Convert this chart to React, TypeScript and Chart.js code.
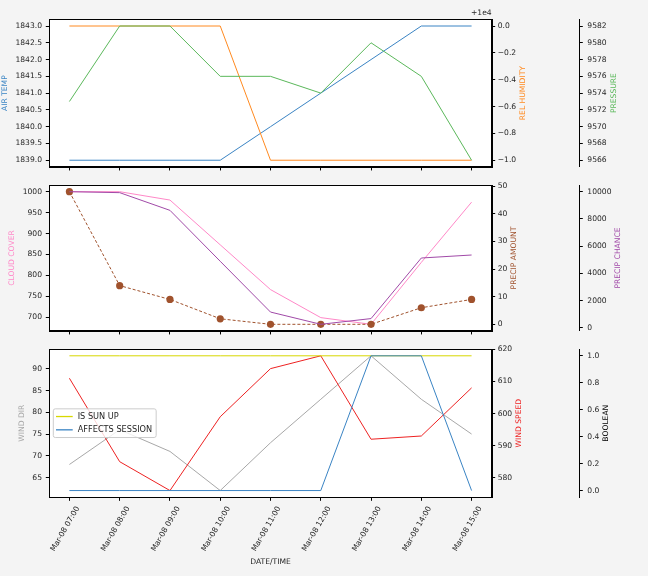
import React, { useEffect, useRef } from 'react';
import { Chart, registerables } from 'chart.js';

Chart.register(...registerables);

// ---------------- data ----------------
const timeLabels = [
  'Mar-08 07:00', 'Mar-08 08:00', 'Mar-08 09:00', 'Mar-08 10:00', 'Mar-08 11:00',
  'Mar-08 12:00', 'Mar-08 13:00', 'Mar-08 14:00', 'Mar-08 15:00',
];
const airTemp = [1839, 1839, 1839, 1839, 1840, 1841, 1842, 1843, 1843];
const relHumidity = [10000, 10000, 10000, 10000, 9999, 9999, 9999, 9999, 9999];
const pressure = [9573, 9582, 9582, 9576, 9576, 9574, 9580, 9576, 9566];
const cloudCover = [1000, 1000, 980, 873, 766, 699, 683, 831, 975];
const precipAmount = [48, 14, 9, 2, 0, 0, 0, 6, 9];
const precipChance = [10000, 9930, 8630, 4890, 1160, 260, 680, 5130, 5350];
const windDir = [68, 76, 71, 62, 73, 83, 93, 83, 75];
const windSpeed = [611, 585, 576, 599, 614, 618, 592, 593, 608];
const isSunUp = [1, 1, 1, 1, 1, 1, 1, 1, 1];
const affectsSession = [0, 0, 0, 0, 0, 0, 1, 1, 0];

const airTempTicks = [1839, 1839.5, 1840, 1840.5, 1841, 1841.5, 1842, 1842.5, 1843];
const relHumidityTicks = [9999, 9999.2, 9999.4, 9999.6, 9999.8, 10000];
const pressureTicks = [9566, 9568, 9570, 9572, 9574, 9576, 9578, 9580, 9582];
const cloudCoverTicks = [700, 750, 800, 850, 900, 950, 1000];
const precipAmountTicks = [0, 10, 20, 30, 40, 50];
const precipChanceTicks = [0, 2000, 4000, 6000, 8000, 10000];
const windDirTicks = [65, 70, 75, 80, 85, 90];
const windSpeedTicks = [580, 590, 600, 610, 620];
const booleanTicks = [0, 0.2, 0.4, 0.6, 0.8, 1.0];

// ---------------- style ----------------
const FONT_FAMILY = '"DejaVu Sans", Verdana, sans-serif';
const FS = 7.6;
const TEXT = '#262626';
const AXIS_WIDTHS = [49.3, 87.6, 68.7];
const AXIS_PADS = [3.8, 2.5, 4.5];

const fmt1 = (v: number) => v.toFixed(1);
const fmtInt = (v: number) => String(Math.round(v));
const fmtOffset = (v: number) => (v - 10000).toFixed(1).replace('-', '\u2212');

function padRange(values: number[]): [number, number] {
  const mn = Math.min(...values);
  const mx = Math.max(...values);
  const d = mx - mn || 1;
  return [mn - d * 0.05, mx + d * 0.05];
}

interface SeriesSpec {
  label: string;
  values: number[];
  color: string;
  axis: string;
  dashed?: boolean;
  markers?: boolean;
}
interface AxisSpec {
  id: string;
  side: 'left' | 'right';
  ticks: number[];
  fmt: (v: number) => string;
  title: string;
  color: string;
}
interface PanelSpec {
  top: number;
  height: number;
  padTop: number;
  xHeight: number;
  showX: boolean;
  axes: AxisSpec[];
  series: SeriesSpec[];
  offsetText?: string;
  legend?: string[];
}

const panels: PanelSpec[] = [
  {
    top: 0, height: 176, padTop: 19.3, xHeight: 8, showX: false,
    offsetText: '+1e4',
    axes: [
      { id: 'y', side: 'left', ticks: airTempTicks, fmt: fmt1, title: 'AIR TEMP', color: '#3a84c4' },
      { id: 'y1', side: 'right', ticks: relHumidityTicks, fmt: fmtOffset, title: 'REL HUMIDITY', color: '#ff8a20' },
      { id: 'y2', side: 'right', ticks: pressureTicks, fmt: fmtInt, title: 'PRESSURE', color: '#5bb85b' },
    ],
    series: [
      { label: 'AIR TEMP', values: airTemp, color: '#3a84c4', axis: 'y' },
      { label: 'REL HUMIDITY', values: relHumidity, color: '#ff8a20', axis: 'y1' },
      { label: 'PRESSURE', values: pressure, color: '#5bb85b', axis: 'y2' },
    ],
  },
  {
    top: 176, height: 164, padTop: 7.3, xHeight: 8.3, showX: false,
    axes: [
      { id: 'y', side: 'left', ticks: cloudCoverTicks, fmt: fmtInt, title: 'CLOUD COVER', color: '#ff88c8' },
      { id: 'y1', side: 'right', ticks: precipAmountTicks, fmt: fmtInt, title: 'PRECIP AMOUNT', color: '#a0522d' },
      { id: 'y2', side: 'right', ticks: precipChanceTicks, fmt: fmtInt, title: 'PRECIP CHANCE', color: '#a14aa8' },
    ],
    series: [
      { label: 'CLOUD COVER', values: cloudCover, color: '#ff88c8', axis: 'y' },
      { label: 'PRECIP AMOUNT', values: precipAmount, color: '#a0522d', axis: 'y1', dashed: true, markers: true },
      { label: 'PRECIP CHANCE', values: precipChance, color: '#a14aa8', axis: 'y2' },
    ],
  },
  {
    top: 340, height: 236, padTop: 8.3, xHeight: 78.7, showX: true,
    legend: ['IS SUN UP', 'AFFECTS SESSION'],
    axes: [
      { id: 'y', side: 'left', ticks: windDirTicks, fmt: fmtInt, title: 'WIND DIR', color: '#a8a8a8' },
      { id: 'y1', side: 'right', ticks: windSpeedTicks, fmt: fmtInt, title: 'WIND SPEED', color: '#ee2222' },
      { id: 'y2', side: 'right', ticks: booleanTicks, fmt: fmt1, title: 'BOOLEAN', color: '#000000' },
    ],
    series: [
      { label: 'WIND DIR', values: windDir, color: '#a8a8a8', axis: 'y' },
      { label: 'WIND SPEED', values: windSpeed, color: '#ee2222', axis: 'y1' },
      { label: 'IS SUN UP', values: isSunUp, color: '#d8d800', axis: 'y2' },
      { label: 'AFFECTS SESSION', values: affectsSession, color: '#3a84c4', axis: 'y2' },
    ],
  },
];

function buildConfig(spec: PanelSpec): any {
  const font = { family: FONT_FAMILY, size: FS };
  const xr = padRange(timeLabels.map((_, i) => i));
  const scales: any = {
    x: {
      type: 'linear',
      bounds: 'data',
      min: xr[0],
      max: xr[1],
      afterBuildTicks: (s: any) => { s.ticks = timeLabels.map((_, i) => ({ value: i })); },
      afterFit: (s: any) => { s.height = spec.xHeight; },
      grid: { display: true, drawOnChartArea: false, drawTicks: true, tickLength: 3.5, tickWidth: 1, tickColor: '#000' },
      border: { display: true, color: '#000', width: 1 },
      ticks: {
        display: spec.showX, autoSkip: false, minRotation: 60, maxRotation: 60,
        labelOffset: 8.5, padding: 4, color: TEXT, font,
        callback: (v: any) => timeLabels[Math.round(Number(v))] ?? '',
      },
      title: { display: spec.showX, text: 'DATE/TIME', color: TEXT, font, padding: { top: 0, bottom: 9.4 } },
    },
  };
  spec.axes.forEach((ax, k) => {
    const vals = spec.series.filter((s) => s.axis === ax.id).flatMap((s) => s.values);
    const [mn, mx] = padRange(vals);
    scales[ax.id] = {
      type: 'linear',
      position: ax.side,
      bounds: 'data',
      min: mn,
      max: mx,
      weight: k,
      afterBuildTicks: (s: any) => { s.ticks = ax.ticks.map((v) => ({ value: v })); },
      afterFit: (s: any) => { s.width = AXIS_WIDTHS[k]; },
      grid: { display: true, drawOnChartArea: false, drawTicks: true, tickLength: 3.5, tickWidth: 1, tickColor: '#000' },
      border: { display: true, color: '#000', width: 1 },
      ticks: { autoSkip: false, padding: AXIS_PADS[k], color: TEXT, font, callback: (v: any) => ax.fmt(Number(v)) },
    };
  });

  const n = spec.series.length;
  const datasets = spec.series.map((s, i) => ({
    label: s.label,
    data: s.values.map((v, j) => ({ x: j, y: v })),
    yAxisID: s.axis,
    xAxisID: 'x',
    borderColor: s.color,
    backgroundColor: s.color,
    borderWidth: 1,
    borderDash: s.dashed ? [3, 2] : [],
    pointRadius: s.markers ? 3.6 : 0,
    pointBackgroundColor: s.color,
    pointBorderColor: s.color,
    pointBorderWidth: 0,
    tension: 0,
    fill: false,
    order: n - i,
  }));

  const decor = {
    id: 'decor',
    beforeDraw(chart: any) {
      const { ctx, chartArea: a } = chart;
      ctx.save();
      ctx.fillStyle = '#ffffff';
      ctx.fillRect(a.left, a.top, a.right - a.left, a.bottom - a.top);
      ctx.restore();
    },
    afterDraw(chart: any) {
      const { ctx, chartArea: a } = chart;
      ctx.save();
      // legend
      if (spec.legend) {
        const items = spec.series.filter((s) => spec.legend!.includes(s.label));
        ctx.font = `${FS + 0.6}px ${FONT_FAMILY}`;
        const tw = Math.max(...items.map((s) => ctx.measureText(s.label).width));
        const rowH = 13.3;
        const bh = 28.7;
        const bw = 24.4 + tw + 4;
        const bx = a.left + 4;
        const by = (a.top + a.bottom) / 2 - bh / 2;
        ctx.beginPath();
        const r = 2;
        ctx.moveTo(bx + r, by);
        ctx.lineTo(bx + bw - r, by);
        ctx.quadraticCurveTo(bx + bw, by, bx + bw, by + r);
        ctx.lineTo(bx + bw, by + bh - r);
        ctx.quadraticCurveTo(bx + bw, by + bh, bx + bw - r, by + bh);
        ctx.lineTo(bx + r, by + bh);
        ctx.quadraticCurveTo(bx, by + bh, bx, by + bh - r);
        ctx.lineTo(bx, by + r);
        ctx.quadraticCurveTo(bx, by, bx + r, by);
        ctx.closePath();
        ctx.fillStyle = 'rgba(255,255,255,0.8)';
        ctx.fill();
        ctx.strokeStyle = '#cccccc';
        ctx.lineWidth = 1;
        ctx.stroke();
        items.forEach((s, i) => {
          const yy = by + 7.7 + i * rowH;
          ctx.strokeStyle = s.color;
          ctx.lineWidth = 1.3;
          ctx.beginPath();
          ctx.moveTo(bx + 2.7, yy);
          ctx.lineTo(bx + 19.4, yy);
          ctx.stroke();
          ctx.fillStyle = TEXT;
          ctx.textAlign = 'left';
          ctx.textBaseline = 'middle';
          ctx.fillText(s.label, bx + 24.4, yy);
        });
      }
      // frame
      ctx.strokeStyle = '#000';
      ctx.lineWidth = 1;
      ctx.strokeRect(Math.round(a.left) + 0.5, Math.round(a.top) + 0.5,
        Math.round(a.right) - Math.round(a.left), Math.round(a.bottom) - Math.round(a.top));
      // axis titles
      ctx.font = `${FS}px ${FONT_FAMILY}`;
      const cy = (a.top + a.bottom) / 2;
      spec.axes.forEach((ax, k) => {
        const sc = chart.scales[ax.id];
        const maxW = Math.max(...sc.ticks.map((t: any) => ctx.measureText(String(t.label)).width));
        const x = ax.side === 'left'
          ? sc.right - 3.5 - AXIS_PADS[k] - maxW - 10.5
          : sc.left + 3.5 + AXIS_PADS[k] + maxW + 7;
        ctx.save();
        ctx.translate(x, cy);
        ctx.rotate(-Math.PI / 2);
        ctx.fillStyle = ax.color;
        ctx.textAlign = 'center';
        ctx.textBaseline = 'middle';
        ctx.fillText(ax.title, 0, 0);
        ctx.restore();
      });
      if (spec.offsetText) {
        ctx.fillStyle = TEXT;
        ctx.textAlign = 'right';
        ctx.textBaseline = 'middle';
        ctx.fillText(spec.offsetText, a.right, a.top - 6);
      }
      ctx.restore();
    },
  };

  return {
    type: 'line',
    data: { datasets },
    options: {
      responsive: false,
      maintainAspectRatio: false,
      animation: false,
      devicePixelRatio: 1,
      events: [],
      layout: { padding: { top: spec.padTop, left: 0, right: 0, bottom: 0 }, autoPadding: false },
      plugins: { legend: { display: false }, tooltip: { enabled: false }, title: { display: false } },
      scales,
    },
    plugins: [decor],
  };
}

function Panel({ spec }: { spec: PanelSpec }) {
  const ref = useRef<HTMLCanvasElement>(null);
  useEffect(() => {
    if (!ref.current) return;
    const chart = new Chart(ref.current, buildConfig(spec));
    return () => chart.destroy();
  }, [spec]);
  return (
    <canvas
      ref={ref}
      width={648}
      height={spec.height}
      style={{ position: 'absolute', left: 0, top: spec.top, width: 648, height: spec.height }}
    />
  );
}

export default function App() {
  return (
    <div style={{ position: 'fixed', left: 0, top: 0, width: 648, height: 576, background: '#f4f4f4', overflow: 'hidden' }}>
      {panels.map((p, i) => (
        <Panel key={i} spec={p} />
      ))}
    </div>
  );
}
